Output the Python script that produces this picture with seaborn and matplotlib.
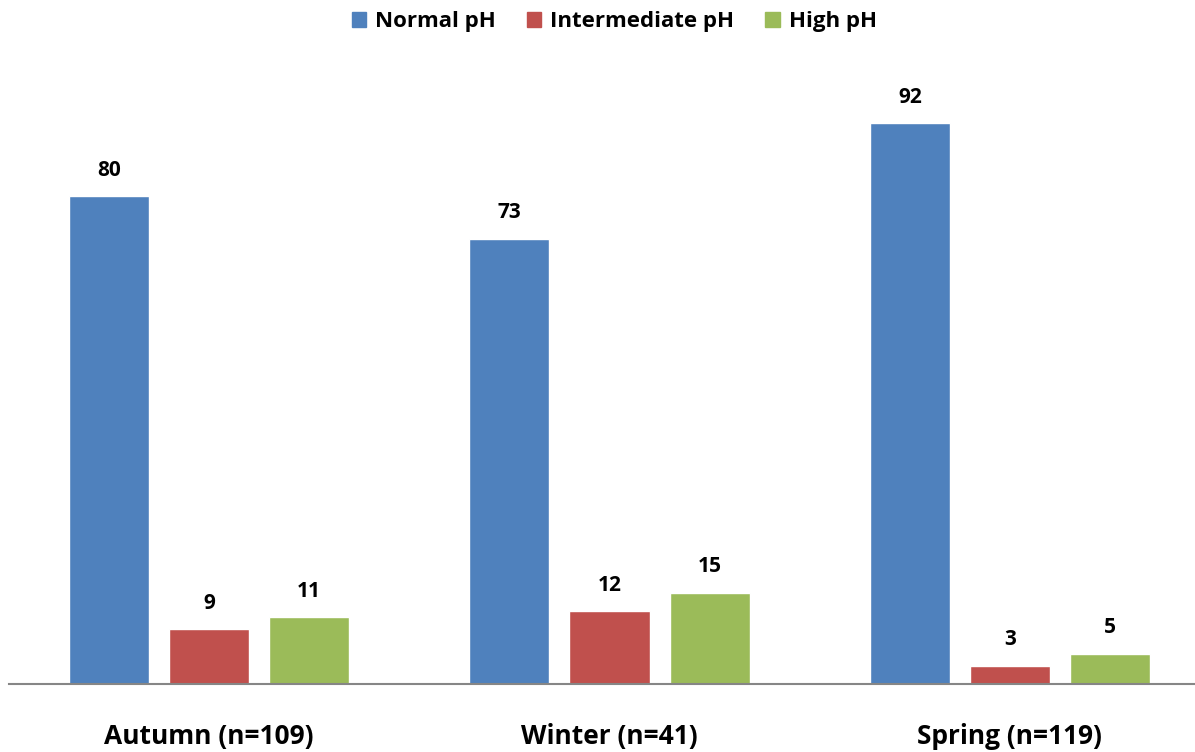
import matplotlib
matplotlib.use("Agg")
import matplotlib.pyplot as plt
import seaborn as sns
import pandas as pd

# data
seasons = ["Autumn (n=109)", "Winter (n=41)", "Spring (n=119)"]
groups = ["Normal pH", "Intermediate pH", "High pH"]
normal = [80, 73, 92]
intermediate = [9, 12, 3]
high = [11, 15, 5]
colors = ["#4F81BD", "#C0504D", "#9BBB59"]

df = pd.DataFrame({
    "season": seasons * 3,
    "group": [groups[0]] * 3 + [groups[1]] * 3 + [groups[2]] * 3,
    "value": normal + intermediate + high,
})

sns.set_style("white")
plt.rcParams["font.family"] = ["Open Sans", "DejaVu Sans"]
plt.rcParams["text.color"] = "black"

fig = plt.figure(figsize=(11.95, 7.52), dpi=100)
ax = fig.add_axes([9 / 1195, (752 - 684) / 752, (1195 - 9) / 1195, 610 / 752])

sns.barplot(data=df, x="season", y="value", hue="group", palette=colors,
            width=0.75, gap=0.2, saturation=1, ax=ax, legend=False)

for cont in ax.containers:
    ax.bar_label(cont, padding=11, fontsize=15, fontweight="bold", color="black")

ax.set_ylim(0, 100)
ax.set_xlim(-0.5, 2.4625)
ax.set_xlabel("")
ax.set_ylabel("")
ax.set_yticks([])
ax.tick_params(axis="x", length=0, pad=28, labelcolor="black")
for lbl in ax.get_xticklabels():
    lbl.set_fontsize(19)
    lbl.set_fontweight("bold")
for s in ["top", "right", "left"]:
    ax.spines[s].set_visible(False)
ax.spines["bottom"].set_color("#868686")
ax.spines["bottom"].set_linewidth(1.5)

handles = [plt.Rectangle((0, 0), 1, 1, color=c) for c in colors]
fig.legend(handles, groups, loc="upper center", bbox_to_anchor=(0.514, 1.012),
           ncol=3, frameon=False, prop={"size": 16, "weight": "bold"},
           handlelength=0.65, handleheight=0.65, handletextpad=0.4, columnspacing=1.4)

fig.savefig("out.png", dpi=100)
